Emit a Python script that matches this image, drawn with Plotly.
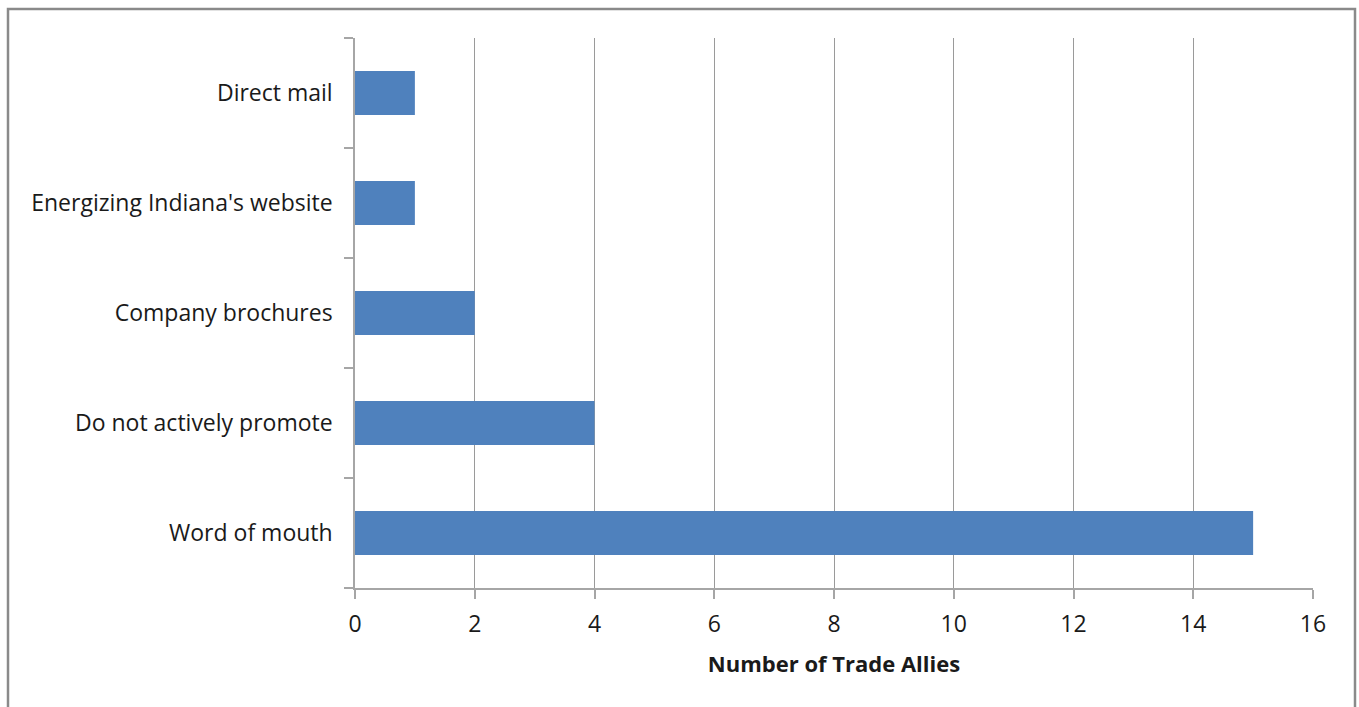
import plotly.graph_objects as go

# Promotion channels reported by trade allies (bottom to top)
categories = [
    "Word of mouth",
    "Do not actively promote",
    "Company brochures",
    "Energizing Indiana's website",
    "Direct mail",
]
counts = [15, 4, 2, 1, 1]
x_ticks = [0, 2, 4, 6, 8, 10, 12, 14, 16]

W, H = 1359, 707
L, R, T, B = 355, 46, 38, 119
pw, ph = W - L - R, H - T - B

def px_x(p):
    return (p - L) / pw

def px_y(p):
    return (T + ph - p) / ph

fig = go.Figure(
    go.Bar(
        x=counts,
        y=categories,
        orientation="h",
        marker=dict(color="#4F81BD", line=dict(width=0)),
        hoverinfo="x+y",
    )
)

font_family = "Open Sans, Liberation Sans, Arial, sans-serif"

fig.update_layout(
    width=W,
    height=H,
    margin=dict(l=L, r=R, t=T, b=B),
    paper_bgcolor="white",
    plot_bgcolor="white",
    bargap=0.6,
    showlegend=False,
    font=dict(family=font_family, size=23, color="#1a1a1a"),
    xaxis=dict(
        range=[0, 16],
        tickvals=x_ticks,
        ticktext=[str(v) for v in x_ticks],
        showgrid=True,
        gridcolor="#9a9a9a",
        gridwidth=1,
        zeroline=False,
        showline=True,
        linecolor="#a6a6a6",
        linewidth=1.5,
        ticks="outside",
        ticklen=9,
        tickcolor="#a6a6a6",
        tickwidth=1.5,
        ticklabelstandoff=6,
        tickfont=dict(size=23),
        title=dict(
            text="<b>Number of Trade Allies</b>",
            font=dict(size=22, color="#1a1a1a"),
            standoff=18,
        ),
        fixedrange=True,
    ),
    yaxis=dict(
        categoryorder="array",
        categoryarray=categories,
        showgrid=False,
        zeroline=False,
        showline=True,
        linecolor="#a6a6a6",
        linewidth=1.5,
        ticks="outside",
        tickson="boundaries",
        ticklen=9,
        tickcolor="#a6a6a6",
        tickwidth=1.5,
        ticklabelstandoff=16,
        tickfont=dict(size=23),
        fixedrange=True,
    ),
    shapes=[
        dict(
            type="rect",
            xref="paper",
            yref="paper",
            x0=px_x(8),
            x1=px_x(1355),
            y0=px_y(720),
            y1=px_y(9),
            line=dict(color="#8a8a8a", width=2.5),
            fillcolor="rgba(0,0,0,0)",
            layer="below",
        )
    ],
)

fig.write_html("out.html")
